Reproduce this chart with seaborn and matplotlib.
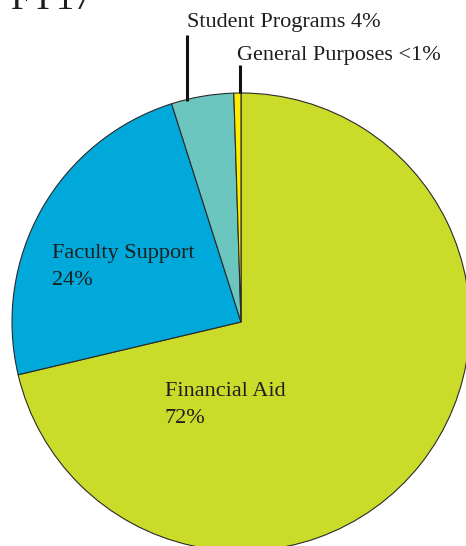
import matplotlib
matplotlib.use("Agg")
import matplotlib.pyplot as plt
import seaborn as sns

categories = ["Financial Aid", "Faculty Support", "Student Programs", "General Purposes"]
values = [71.3, 23.8, 4.4, 0.5]
pct_labels = ["72%", "24%", "4%", "<1%"]
colors = ["#CBDB2A", "#00A9D9", "#6CC6C0", "#FFED00"]

sns.set_theme(style="white")
plt.rcParams["font.family"] = ["Liberation Serif", "DejaVu Serif"]

W, H = 466, 546
CX, CY, R = 241, 322, 229
fig = plt.figure(figsize=(W / 100, H / 100), dpi=100)
ax = fig.add_axes([0, 0, 1, 1])

wedges, _ = ax.pie(values, colors=colors, startangle=90, counterclock=False,
                   radius=R, center=(0, 0),
                   wedgeprops=dict(edgecolor="#2a2a2a", linewidth=0.8))
ax.set_xlim(-CX, W - CX)
ax.set_ylim(-(H - CY), CY)
ax.set_aspect("equal")
ax.axis("off")

def px(x, y):
    return x - CX, CY - y

tc = "#1e1e1e"
fs = 16
# in-slice labels (two lines each)
ax.text(*px(52, 258), categories[1], fontsize=fs, color=tc, va="baseline", ha="left")
ax.text(*px(52, 285), pct_labels[1], fontsize=fs, color=tc, va="baseline", ha="left")
ax.text(*px(165, 396), categories[0], fontsize=fs, color=tc, va="baseline", ha="left")
ax.text(*px(165, 423), pct_labels[0], fontsize=fs, color=tc, va="baseline", ha="left")
# outside labels
ax.text(*px(187, 27), f"{categories[2]} {pct_labels[2]}", fontsize=fs, color=tc,
        va="baseline", ha="left")
ax.text(*px(237, 60), f"{categories[3]} {pct_labels[3]}", fontsize=fs, color=tc,
        va="baseline", ha="left")

# leader lines
ax.plot(*zip(px(187, 35), px(187, 101)), color="#111111", lw=2.2, solid_capstyle="butt")
ax.plot(*zip(px(240, 65), px(240, 93)), color="#111111", lw=2.2, solid_capstyle="butt")

# cropped heading at top-left
ax.text(*px(11, 9), "FY17", fontsize=26, color=tc, va="baseline", ha="left")

fig.savefig("out.png", dpi=100)
